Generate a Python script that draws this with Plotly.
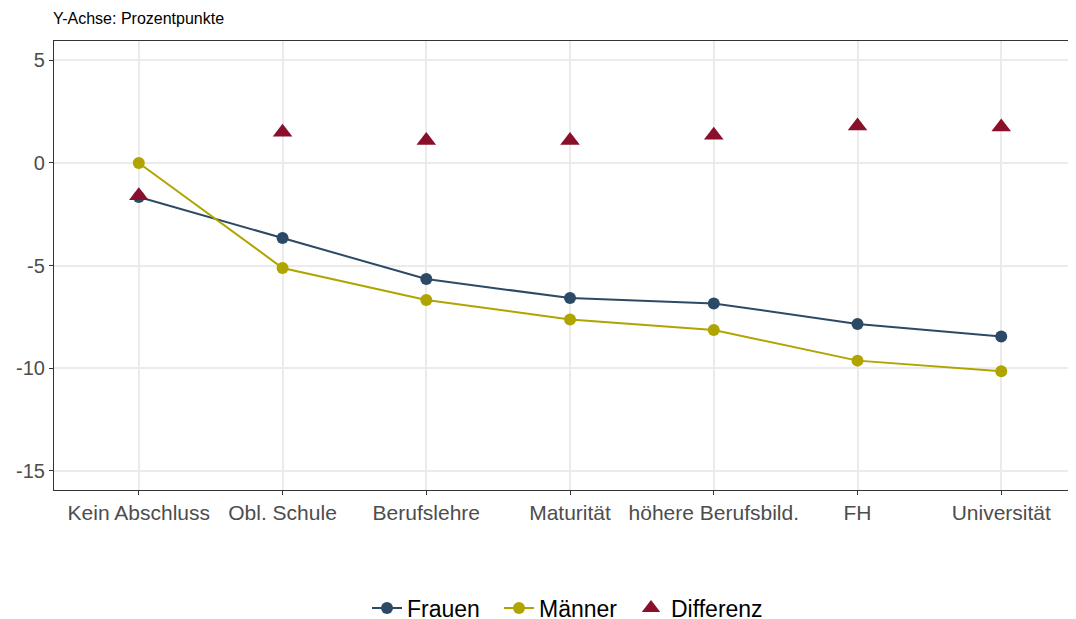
import plotly.graph_objects as go

categories = ["Kein Abschluss", "Obl. Schule", "Berufslehre", "Maturität",
              "höhere Berufsbild.", "FH", "Universität"]
frauen = [-1.66, -3.66, -5.66, -6.59, -6.85, -7.85, -8.46]
maenner = [0.0, -5.12, -6.68, -7.63, -8.15, -9.64, -10.16]
differenz = [-1.6, 1.5, 1.1, 1.1, 1.35, 1.8, 1.75]

C_FRAUEN = "#2c4a66"
C_MAENNER = "#b0a400"
C_DIFF = "#8a0f2a"

fig = go.Figure()
fig.add_trace(go.Scatter(x=categories, y=frauen, name="Frauen", mode="lines+markers",
                         line=dict(color=C_FRAUEN, width=2),
                         marker=dict(color=C_FRAUEN, size=12)))
fig.add_trace(go.Scatter(x=categories, y=maenner, name="Männer", mode="lines+markers",
                         line=dict(color=C_MAENNER, width=2),
                         marker=dict(color=C_MAENNER, size=12)))
fig.add_trace(go.Scatter(x=categories, y=differenz, name="Differenz", mode="markers",
                         marker=dict(color=C_DIFF, size=17, symbol="triangle-up")))

font_family = "Liberation Sans, Arial, sans-serif"
fig.update_layout(
    width=1068, height=611,
    margin=dict(l=46, r=0, t=33, b=129, autoexpand=False),
    plot_bgcolor="white", paper_bgcolor="white",
    font=dict(family=font_family),
    showlegend=True,
    legend=dict(orientation="h", x=0.5, xanchor="center", y=-0.263, yanchor="middle",
                font=dict(size=23, color="black"), itemwidth=30, entrywidth=87),
    xaxis=dict(range=[-0.59, 6.52], showgrid=True, gridcolor="#ebebeb", gridwidth=1.5,
               showline=True, linecolor="#333333", linewidth=1.2, mirror=True,
               ticks="outside", ticklen=4, tickcolor="#333333",
               tickfont=dict(family=font_family, size=21, color="#4d4d4d"),
               zeroline=False),
    yaxis=dict(range=[-15.95, 5.95], tickvals=[5, 0, -5, -10, -15],
               ticktext=["5", "0", "-5", "-10", "-15"],
               showgrid=True, gridcolor="#ebebeb", gridwidth=1.5,
               showline=True, linecolor="#333333", linewidth=1.2, mirror=False,
               ticks="outside", ticklen=4, tickcolor="#333333",
               tickfont=dict(family=font_family, size=20, color="#4d4d4d"),
               zeroline=False),
    annotations=[dict(text="Y-Achse: Prozentpunkte", xref="paper", yref="paper",
                      x=0, y=1 + 23 / 449, xanchor="left", yanchor="middle", xshift=-3,
                      showarrow=False, font=dict(size=16, color="black"))],
)

fig.write_html("out.html")
